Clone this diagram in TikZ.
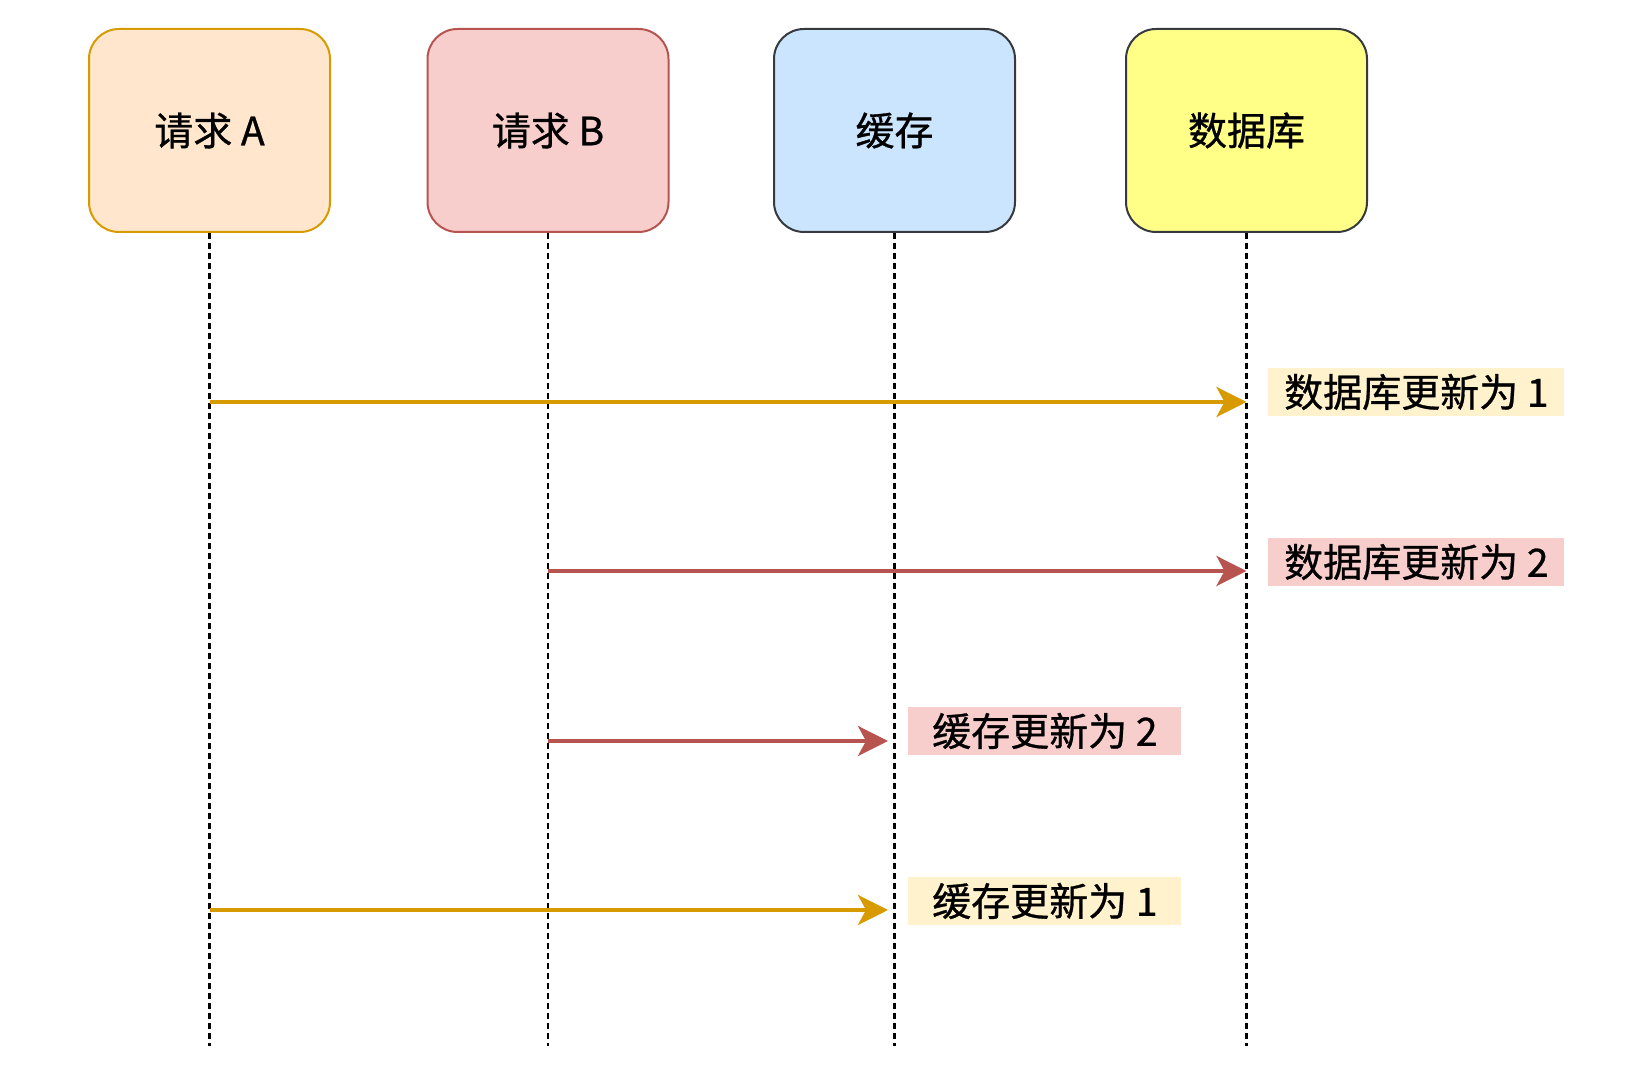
\documentclass[tikz,border=0pt]{standalone}
\usepackage{fontspec}
\newfontfamily\cjk[FakeBold=0.8]{Noto Sans CJK SC}
\usetikzlibrary{arrows.meta}

\definecolor{afill}{HTML}{FFE6CC}
\definecolor{aline}{HTML}{D79B00}
\definecolor{bfill}{HTML}{F8CECC}
\definecolor{bline}{HTML}{B85450}
\definecolor{cachefill}{HTML}{CCE5FF}
\definecolor{dbfill}{HTML}{FFFF88}
\definecolor{darkline}{HTML}{36393D}
\definecolor{notey}{HTML}{FFF2CC}

\begin{document}
\begin{tikzpicture}[x=0.5pt, y=-0.5pt,
    actor/.style={draw, line width=1pt, rounded corners=15pt,
      minimum width=120.5pt, minimum height=101.5pt,
      font=\cjk\fontsize{19.5}{23}\selectfont},
    lifeline/.style={black, line width=1.1pt, dash pattern=on 3pt off 2pt},
    msg/.style={line width=2pt, -{Stealth[length=15pt, width=15pt, inset=4pt]}},
    note/.style={inner sep=0pt, minimum height=24pt, anchor=west,
      font=\cjk\fontsize{19.5}{23}\selectfont}]
    \useasboundingbox (0,0) rectangle (1640,1068);

    % Participants
    \node[actor, fill=afill, draw=aline] (reqA) at (209.5,130.5) {请求 A};
    \node[actor, fill=bfill, draw=bline] (reqB) at (548,130.5) {请求 B};
    \node[actor, fill=cachefill, draw=darkline] (cache) at (894.5,130.5) {缓存};
    \node[actor, fill=dbfill, draw=darkline] (db) at (1246.5,130.5) {数据库};

    % Lifelines
    \coordinate (endA) at (209.5,1046);
    \coordinate (endB) at (548,1046);
    \coordinate (endC) at (894.5,1046);
    \coordinate (endD) at (1246.5,1046);
    \draw[lifeline] (reqA.south) -- (endA);
    \draw[lifeline] (reqB.south) -- (endB);
    \draw[lifeline] (cache.south) -- (endC);
    \draw[lifeline] (db.south) -- (endD);

    % Messages
    \coordinate (a1) at (209.5,402);  \coordinate (d1) at (1246.5,402);
    \coordinate (b2) at (548,571);    \coordinate (d2) at (1246.5,571);
    \coordinate (b3) at (548,741);    \coordinate (c3) at (888,741);
    \coordinate (a4) at (209.5,910);  \coordinate (c4) at (888,910);
    \draw[msg, aline] (a1) -- (d1);
    \draw[msg, bline] (b2) -- (d2);
    \draw[msg, bline] (b3) -- (c3);
    \draw[msg, aline] (a4) -- (c4);

    % Notes
    \node[note, fill=notey, minimum width=148pt] (n1) at (1268,392) {数据库更新为 1};
    \node[note, fill=bfill, minimum width=148pt] (n2) at (1268,562) {数据库更新为 2};
    \node[note, fill=bfill, minimum width=136.5pt] (n3) at (908,731) {缓存更新为 2};
    \node[note, fill=notey, minimum width=136.5pt] (n4) at (908,901) {缓存更新为 1};
\end{tikzpicture}
\end{document}
